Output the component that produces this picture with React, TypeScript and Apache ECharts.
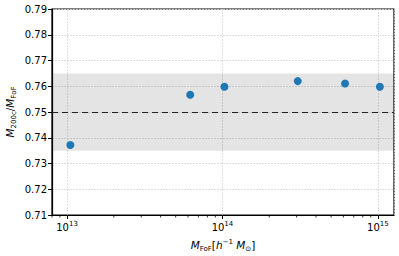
import React, { useEffect, useRef } from "react";
import * as echarts from "echarts";

const massValues = [1.05e13, 6.2e13, 1.03e14, 3.05e14, 6.15e14, 1.03e15];
const ratioValues = [0.7372, 0.7567, 0.7598, 0.762, 0.7611, 0.7598];
const bandRange = [0.735, 0.765];
const refLine = 0.75;
const xRange = [8.0e12, 1.27e15];
const yTicks = [0.71, 0.72, 0.73, 0.74, 0.75, 0.76, 0.77, 0.78, 0.79];
const minorTickValues: number[] = [];
for (const dec of [1e12, 1e13, 1e14, 1e15]) {
  for (let m = 2; m <= 9; m++) {
    const v = m * dec;
    if (v >= xRange[0] && v <= xRange[1]) minorTickValues.push(v);
  }
}

const FONT = "DejaVu Sans";

export default function App() {
  const ref = useRef<HTMLDivElement>(null);
  useEffect(() => {
    const chart = echarts.init(ref.current!, null, { renderer: "svg" });
    const sup: any = { fontFamily: FONT, fontSize: 7, color: "#000", verticalAlign: "top", lineHeight: 12, padding: [0, 0, 4, 0] };
    chart.setOption({
      animation: false,
      grid: {
        left: 52, right: 5, top: 9, bottom: 41,
        containLabel: false,
        outerBoundsMode: "none",
        show: true, borderColor: "#000", borderWidth: 1.2, backgroundColor: "transparent",
      },
      xAxis: {
        type: "log",
        logBase: 10,
        min: xRange[0],
        max: xRange[1],
        name: "{i|M}{s|FoF}{n|[}{i|h}{p|−1}{i| M}{s|⊙}{n|]}",
        nameLocation: "middle",
        nameGap: 23,
        nameMoveOverlap: false,
        nameTextStyle: {
          rich: {
            i: { fontFamily: FONT, fontSize: 10.5, fontStyle: "italic", color: "#000", lineHeight: 14 },
            n: { fontFamily: FONT, fontSize: 10.5, color: "#000", lineHeight: 14 },
            s: { fontFamily: FONT, fontSize: 7, color: "#000", lineHeight: 8, verticalAlign: "bottom", padding: [5, 0, 0, 0] },
            p: { fontFamily: FONT, fontSize: 7, color: "#000", lineHeight: 8, verticalAlign: "top", padding: [0, 0, 5, 0] },
          },
        },
        axisLine: { show: true, lineStyle: { color: "#000", width: 1.2 } },
        axisTick: { show: true, length: 4, lineStyle: { color: "#000", width: 1 } },
        splitLine: { show: true, lineStyle: { color: "#d6d6d6", width: 0.8, type: [2, 1] } },
        axisLabel: {
          margin: 5,
          showMinLabel: false,
          showMaxLabel: false,
          formatter: (v: number) => {
            const e = Math.round(Math.log10(v));
            if (Math.abs(Math.log10(v) - e) > 1e-6) return "";
            return `{b|10}{sup|${e}}`;
          },
          rich: {
            b: { fontFamily: FONT, fontSize: 10, color: "#000", lineHeight: 12, verticalAlign: "bottom" },
            sup,
          },
        },
      },
      yAxis: {
        type: "value",
        min: 0.71,
        max: 0.79,
        interval: 0.01,
        name: "{i|M}{s|200c}{n|/}{i|M}{s|FoF}",
        nameLocation: "middle",
        nameRotate: 90,
        nameGap: 35,
        nameMoveOverlap: false,
        nameTextStyle: {
          rich: {
            i: { fontFamily: FONT, fontSize: 10.5, fontStyle: "italic", color: "#000", lineHeight: 14 },
            n: { fontFamily: FONT, fontSize: 10.5, color: "#000", lineHeight: 14 },
            s: { fontFamily: FONT, fontSize: 7, color: "#000", lineHeight: 8, verticalAlign: "bottom", padding: [5, 0, 0, 0] },
          },
        },
        axisLine: { show: true, lineStyle: { color: "#000", width: 1.2 } },
        axisTick: { show: true, length: 4, lineStyle: { color: "#000", width: 1 } },
        splitLine: { show: true, lineStyle: { color: "#d6d6d6", width: 0.8, type: [2, 1] } },
        axisLabel: {
          margin: 5,
          fontFamily: FONT,
          fontSize: 10,
          color: "#000",
          formatter: (v: number) => v.toFixed(2),
        },
      },
      series: [
        {
          type: "scatter",
          data: massValues.map((m, i) => [m, ratioValues[i]]),
          symbolSize: 8,
          itemStyle: { color: "#1f77b4", opacity: 1 },
          z: 5,
          markArea: {
            silent: true,
            itemStyle: { color: "rgba(0,0,0,0.105)" },
            data: [[{ yAxis: bandRange[0] }, { yAxis: bandRange[1] }]],
          },
          markLine: {
            silent: true,
            symbol: "none",
            label: { show: false },
            lineStyle: { color: "#222", width: 1.2, type: [6, 4] },
            data: [{ yAxis: refLine }],
          },
        },
        {
          type: "custom",
          silent: true,
          clip: false,
          data: minorTickValues.map((v) => [v, yTicks[0]]),
          renderItem: (params: any, api: any) => {
            const p = api.coord([api.value(0), api.value(1)]);
            return {
              type: "line",
              shape: { x1: p[0], y1: p[1], x2: p[0], y2: p[1] + 2.5 },
              style: { stroke: "#000", lineWidth: 0.8 },
            };
          },
        },
      ],
    });
    return () => chart.dispose();
  }, []);
  return <div ref={ref} style={{ width: 399, height: 256, position: "absolute", left: 0, top: 0, background: "#fff" }} />;
}
